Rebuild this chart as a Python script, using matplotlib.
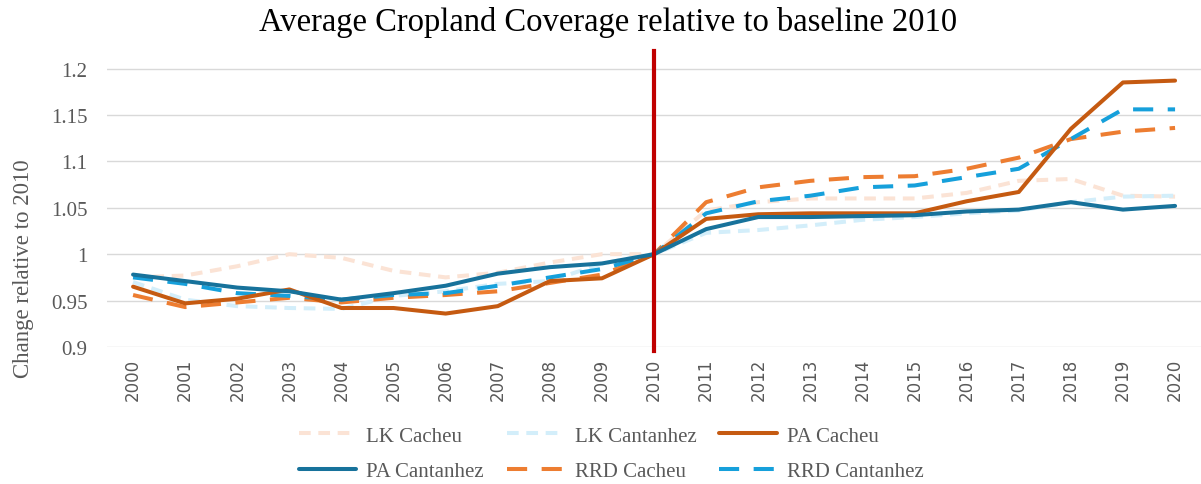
import numpy as np
import matplotlib
matplotlib.use('Agg')
from matplotlib import pyplot as plt

years = list(range(2000, 2021))

lk_cacheu = [0.975, 0.977, 0.987, 1.000, 0.996, 0.982, 0.975, 0.980, 0.991, 1.000, 1.000,
             1.047, 1.056, 1.060, 1.060, 1.060, 1.066, 1.079, 1.081, 1.063, 1.062]
lk_cantanhez = [0.970, 0.951, 0.944, 0.942, 0.941, 0.955, 0.960, 0.968, 0.971, 0.990, 1.000,
                1.023, 1.026, 1.031, 1.037, 1.040, 1.044, 1.047, 1.056, 1.062, 1.063]
pa_cacheu = [0.965, 0.947, 0.952, 0.962, 0.942, 0.942, 0.936, 0.944, 0.971, 0.974, 1.000,
             1.038, 1.043, 1.044, 1.044, 1.044, 1.057, 1.067, 1.135, 1.185, 1.187]
pa_cantanhez = [0.978, 0.971, 0.964, 0.960, 0.951, 0.958, 0.966, 0.979, 0.986, 0.990, 1.000,
                1.027, 1.040, 1.040, 1.041, 1.042, 1.046, 1.048, 1.056, 1.048, 1.052]
rrd_cacheu = [0.956, 0.943, 0.948, 0.953, 0.948, 0.953, 0.956, 0.960, 0.969, 0.978, 1.000,
              1.056, 1.072, 1.079, 1.083, 1.084, 1.092, 1.104, 1.124, 1.132, 1.136]
rrd_cantanhez = [0.975, 0.968, 0.958, 0.955, 0.951, 0.956, 0.958, 0.966, 0.975, 0.984, 1.000,
                 1.044, 1.057, 1.063, 1.072, 1.074, 1.083, 1.092, 1.124, 1.156, 1.156]

serif = ['Liberation Serif', 'DejaVu Serif']
grey = '#595959'

fig = plt.figure(figsize=(12.01, 4.85), dpi=100)
ax = fig.add_axes([0.0891, 0.2825, 0.911, 0.6105])

short = (2.9, 1.9)
long_ = (5.0, 3.6)
ax.plot(years, lk_cacheu, color='#FBE3D5', lw=2.9, dashes=short, label='LK Cacheu', zorder=2)
ax.plot(years, lk_cantanhez, color='#D3EEFA', lw=2.9, dashes=short, label='LK Cantanhez', zorder=2)
ax.plot(years, pa_cacheu, color='#C55A11', lw=2.9, label='PA Cacheu', zorder=4,
        solid_capstyle='round', solid_joinstyle='round')
ax.plot(years, pa_cantanhez, color='#17729B', lw=2.9, label='PA Cantanhez', zorder=5,
        solid_capstyle='round', solid_joinstyle='round')
ax.plot(years, rrd_cacheu, color='#ED7D31', lw=2.9, dashes=long_, label='RRD Cacheu', zorder=3)
ax.plot(years, rrd_cantanhez, color='#16A0DB', lw=2.9, dashes=long_, label='RRD Cantanhez', zorder=3)

ax.axvline(2010, ymin=-0.015, ymax=1, color='#C00000', lw=3, clip_on=False, zorder=6)

ax.set_xlim(1999.5, 2020.5)
ax.set_ylim(0.9, 1.219)
ax.set_yticks([0.9, 0.95, 1.0, 1.05, 1.1, 1.15, 1.2])
ax.set_yticklabels(['0.9', '0.95', '1', '1.05', '1.1', '1.15', '1.2'],
                   family=serif, fontsize=15, color=grey)
ax.set_xticks(years)
ax.set_xticklabels([str(y) for y in years], rotation=90, fontsize=12, color=grey)
ax.tick_params(axis='y', length=0, pad=14)
ax.tick_params(axis='x', length=0, pad=8)
ax.grid(axis='y', color='#D9D9D9', lw=1)
ax.set_axisbelow(True)
for s in ax.spines.values():
    s.set_visible(False)

ax.set_ylabel('Change relative to 2010', family=serif, fontsize=16.5, color=grey)
ax.yaxis.set_label_coords(-0.067, 0.267)
fig.text(0.506, 0.953, 'Average Cropland Coverage relative to baseline 2010', family=serif,
         fontsize=23.5, ha='center', va='center')

handles, labels = ax.get_legend_handles_labels()
order = [0, 3, 1, 4, 2, 5]
leg = fig.legend([handles[i] for i in order], [labels[i] for i in order],
                 loc='center', bbox_to_anchor=(0.509, 0.063), ncol=3, frameon=False,
                 prop={'family': serif, 'size': 15}, handlelength=2.75,
                 columnspacing=1.1, labelspacing=0.75, handletextpad=0.5)
for t in leg.get_texts():
    t.set_color(grey)

fig.savefig('out.png', dpi=100)
